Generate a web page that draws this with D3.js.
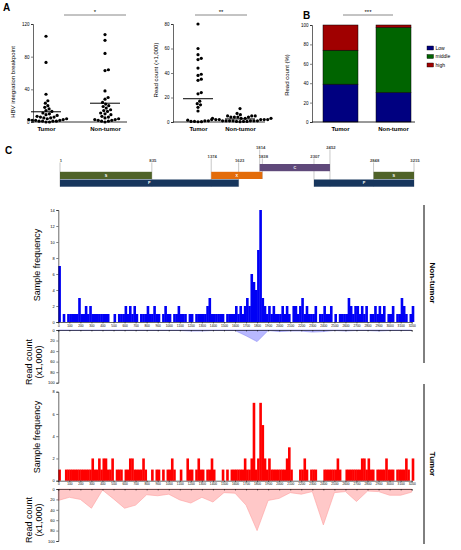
<!DOCTYPE html>
<html>
<head>
<meta charset="utf-8">
<script src="https://cdn.jsdelivr.net/npm/d3@7"></script>
<style>
  body { margin: 0; background: #fff; }
  figure { margin: 0; }
  svg { display: block; font-family: "Liberation Sans", Arial, sans-serif; }
</style>
</head>
<body>
<figure></figure>
<script>
// ---- panel A data ----
const groups = ['Tumor', 'Non-tumor'];
const breakpointTumor = [105, 73, 34, 26, 23, 20, 18, 16, 14, 13, 11, 10, 9, 8, 7, 6, 6, 5, 5, 4, 4, 3, 3, 2, 2, 2, 1, 1, 1, 1, 0, 0];
const breakpointNonTumor = [107, 100, 84, 64, 63, 38, 30, 28, 24, 22, 20, 19, 17, 15, 14, 13, 11, 10, 9, 7, 6, 5, 4, 3, 3, 2, 2, 1, 1, 0];
const breakpointMean = [12.5, 23];
const readTumor = [80, 60, 55, 52, 51, 44, 39, 38, 35, 34, 24, 23, 17, 15, 14, 12, 9, 2, 1.5, 1, 1, 0.5, 0.5, 0.3, 0.2];
const readNonTumor = [11, 7, 6, 5, 5, 5, 4, 4, 4, 4, 3, 3, 3, 3, 2, 2, 2, 2, 2, 1, 1, 1, 1, 1, 1, 1, 0.5, 0.5, 0.5, 0.3];
const readMean = [19, 2.5];

// ---- panel B data ----
const levels = ['Low', 'middle', 'high'];
const pctTumor = [39, 35, 26];
const pctNonTumor = [30.5, 67, 2.5];

// ---- panel C data ----
const geneNames = ['S', 'X', 'C', 'P', 'S', 'P'];
const geneStart = [1, 1374, 1814, 1, 2848, 2307];
const geneEnd = [835, 1838, 2452, 1623, 3215, 3215];
const coordLabels = [1, 835, 1374, 1623, 1814, 1838, 2307, 2452, 2848, 3215];

const binSize = 20;
const freqNonTumor = [
  7,0,1,0,1,1,1,1,1,3,
  1,1,2,1,2,1,1,1,1,1,
  1,1,1,0,0,1,0,1,1,1,
  2,1,2,1,2,1,0,1,1,1,
  2,1,1,2,1,1,0,1,2,1,
  1,0,1,1,2,1,1,1,0,1,
  1,0,1,1,1,1,1,2,3,1,
  1,1,1,1,1,0,1,1,1,1,
  2,1,2,1,2,3,2,6,5,4,
  9,14,3,2,1,2,1,2,1,1,
  1,2,1,2,1,0,2,2,1,2,
  3,1,2,1,1,1,2,0,1,1,
  2,1,1,2,0,1,0,1,1,1,
  1,3,2,1,2,2,1,2,1,2,
  0,1,1,2,1,2,1,2,0,1,
  1,2,0,1,1,3,2,1,0,1,
  2];
const freqTumor = [
  1,0,0,1,1,1,1,1,1,1,
  1,1,1,1,1,2,1,1,2,1,
  2,2,1,1,2,0,1,1,1,0,
  1,1,2,2,1,1,1,1,2,1,
  0,0,1,0,1,1,0,1,0,1,
  1,2,1,0,0,1,0,0,2,1,
  1,0,1,2,1,1,0,1,1,2,
  1,0,0,0,1,0,1,0,1,1,
  1,1,1,1,2,1,1,2,7,1,
  2,7,5,2,1,2,1,1,1,1,
  1,1,1,2,3,1,0,0,0,1,
  1,2,1,0,1,1,1,0,0,0,
  1,1,1,1,1,1,2,1,0,0,
  1,1,1,1,1,1,1,2,2,1,
  2,1,1,0,1,1,1,1,2,1,
  1,1,0,1,1,1,1,2,1,0,
  2];

const readPos = [0,100,200,300,400,500,600,700,800,900,1000,1100,1200,1300,1400,1500,1600,
  1700,1800,1900,2000,2100,2200,2300,2400,2500,2600,2700,2800,2900,3000,3100,3200];
const readAreaNonTumor = [1,1,1,1,1,1,1,1,1,1,1,1,2,2,1,1,1,11,22,1,3,2,2,4,3,1,2,1,1,2,1,1,1];
const readAreaTumor = [22,16,20,37,2,19,37,31,11,13,10,21,27,16,25,7,8,31,80,22,18,7,10,5,69,7,5,24,4,5,12,12,6];

(() => {
  const svg = d3.select('figure').append('svg')
    .attr('width', 461)
    .attr('height', 550);

  const styleAxis = (g, fs) => {
    g.select('.domain').attr('stroke', '#000').attr('stroke-width', 0.6);
    g.selectAll('.tick line').attr('stroke', '#000').attr('stroke-width', 0.5);
    g.selectAll('.tick text').attr('font-size', fs).attr('fill', '#000');
  };

  const vText = (x, y, str, fs, rot, weight) => svg.append('text')
    .attr('transform', 'translate(' + x + ',' + y + ') rotate(' + rot + ')')
    .attr('text-anchor', 'middle')
    .attr('font-size', fs)
    .attr('font-weight', weight || 'normal')
    .text(str);

  // simple beeswarm: place each point at the smallest offset that avoids overlaps
  const dodge = (vals, y, r, cx) => {
    const d = 2 * r + 0.3;
    const placed = [];
    vals.slice().sort((a, b) => a - b).forEach(v => {
      const py = y(v);
      const near = placed.filter(p => Math.abs(p.y - py) < d);
      const cands = [0];
      near.forEach(p => {
        const dx = Math.sqrt(d * d - (p.y - py) * (p.y - py));
        cands.push(p.dx + dx, p.dx - dx);
      });
      cands.sort((a, b) => Math.abs(a) - Math.abs(b));
      const off = cands.find(c => near.every(p => (p.dx - c) ** 2 + (p.y - py) ** 2 >= d * d - 1e-6));
      placed.push({y: py, dx: off});
    });
    return placed.map(p => ({cx: cx + p.dx, cy: p.y}));
  };

  const letter = (x, y, s) => svg.append('text').attr('x', x).attr('y', y)
    .attr('font-size', 10).attr('font-weight', 'bold').text(s);

  const sigBar = (x1, x2, stars) => {
    svg.append('line').attr('x1', x1).attr('x2', x2).attr('y1', 15).attr('y2', 15)
      .attr('stroke', '#888').attr('stroke-width', 1);
    svg.append('text').attr('x', (x1 + x2) / 2).attr('y', 13.5).attr('text-anchor', 'middle')
      .attr('font-size', 6).text(stars);
  };

  // ---------- panel A ----------
  letter(3, 11, 'A');

  const scatter = (axisX, axisEnd, catRange, yMax, yTicks, series, means, label, labelX, labelY) => {
    const y = d3.scaleLinear().domain([0, yMax]).range([122, 24]);
    const x = d3.scalePoint().domain(groups).range(catRange);
    const ya = svg.append('g').attr('transform', 'translate(' + axisX + ',0)')
      .call(d3.axisLeft(y).tickValues(yTicks).tickSize(2).tickPadding(1.5));
    styleAxis(ya, 4.5);
    svg.append('line').attr('x1', axisX).attr('x2', axisEnd).attr('y1', 122).attr('y2', 122)
      .attr('stroke', '#000').attr('stroke-width', 0.8);
    const xa = svg.append('g').attr('transform', 'translate(0,122)')
      .call(d3.axisBottom(x).tickSize(0).tickPadding(5));
    xa.select('.domain').remove();
    xa.selectAll('.tick text').attr('font-size', 6).attr('font-weight', 'bold').attr('fill', '#000');
    groups.forEach((gname, i) => {
      svg.append('g').selectAll('circle')
        .data(dodge(series[i], y, 1.6, x(gname)))
        .join('circle')
        .attr('cx', d => d.cx).attr('cy', d => d.cy).attr('r', 1.6).attr('fill', '#000');
      svg.append('line').attr('x1', x(gname) - 15).attr('x2', x(gname) + 15)
        .attr('y1', y(means[i])).attr('y2', y(means[i]))
        .attr('stroke', '#000').attr('stroke-width', 1);
    });
    vText(labelX, labelY, label, 6, -90);
  };

  scatter(33, 127, [46, 105], 120, [0, 40, 80, 120], [breakpointTumor, breakpointNonTumor],
    breakpointMean, 'HBV integration breakpoint', 15, 82);
  sigBar(64, 126, '*');

  scatter(173, 265, [198, 240], 80, [0, 20, 40, 60, 80], [readTumor, readNonTumor],
    readMean, 'Read count (\u00d71,000)', 158, 70);
  sigBar(195, 247, '**');

  // ---------- panel B ----------
  letter(303, 19, 'B');
  const yPct = d3.scaleLinear().domain([0, 100]).range([122, 25]);
  const xB = d3.scaleBand().domain(groups).range([312, 422]).paddingInner(0.34).paddingOuter(0.2075);
  const levelColor = {Low: '#000080', middle: '#006400', high: '#A00000'};
  const rows = groups.map((g, i) => {
    const vals = i === 0 ? pctTumor : pctNonTumor;
    const row = {group: g};
    levels.forEach((l, j) => { row[l] = vals[j]; });
    return row;
  });
  const stacked = d3.stack().keys(levels)(rows);
  svg.append('g').selectAll('g').data(stacked).join('g')
    .attr('fill', d => levelColor[d.key])
    .selectAll('rect').data(d => d).join('rect')
    .attr('x', d => xB(d.data.group))
    .attr('width', xB.bandwidth())
    .attr('y', d => yPct(d[1]))
    .attr('height', d => yPct(d[0]) - yPct(d[1]))
    .attr('stroke', '#000').attr('stroke-width', 0.5);
  const yb = svg.append('g').attr('transform', 'translate(312,0)')
    .call(d3.axisLeft(yPct).tickValues([0, 20, 40, 60, 80, 100]).tickSize(2).tickPadding(1.5));
  styleAxis(yb, 4.5);
  svg.append('line').attr('x1', 312).attr('x2', 415).attr('y1', 122).attr('y2', 122)
    .attr('stroke', '#000').attr('stroke-width', 0.8);
  const xb = svg.append('g').attr('transform', 'translate(0,122)')
    .call(d3.axisBottom(xB).tickSize(0).tickPadding(5));
  xb.select('.domain').remove();
  xb.selectAll('.tick text').attr('font-size', 6).attr('font-weight', 'bold').attr('fill', '#000');
  vText(289, 75, 'Read count (%)', 6, -90);
  sigBar(343, 393, '***');
  const leg = svg.append('g').selectAll('g').data(levels).join('g')
    .attr('transform', (d, i) => 'translate(427,' + (46 + i * 8.5) + ')');
  leg.append('rect').attr('width', 6.5).attr('height', 4).attr('fill', d => levelColor[d])
    .attr('stroke', '#000').attr('stroke-width', 0.4);
  leg.append('text').attr('x', 8.5).attr('y', 3.8).attr('font-size', 5).text(d => d);

  // ---------- panel C: genome map ----------
  letter(5, 154, 'C');
  const gx = d3.scaleLinear().domain([1, 3215]).range([60, 414]);
  const geneColor = {S: '#4F6228', X: '#E36C0A', C: '#5F497A', P: '#17365D'};
  const geneRow = {C: 0, S: 1, X: 1, P: 2};
  const rowTop = [164, 171.8, 179.5];
  const rowH = 7.2;
  const labelY = {1814: 148.5, 2452: 148.5, 1374: 157.5, 1838: 157.5, 2307: 157.5};
  coordLabels.forEach(pos => {
    const ly = labelY[pos] || 161.5;
    let bottom = 0;
    geneNames.forEach((n, i) => {
      if (geneStart[i] <= pos && pos <= geneEnd[i]) bottom = Math.max(bottom, rowTop[geneRow[n]] + rowH);
    });
    svg.append('line').attr('x1', gx(pos)).attr('x2', gx(pos)).attr('y1', ly + 1).attr('y2', bottom)
      .attr('stroke', '#b0b0b0').attr('stroke-width', 0.7);
    svg.append('text').attr('x', gx(pos) + 1).attr('y', ly).attr('text-anchor', 'middle')
      .attr('font-size', 4.2).attr('font-weight', 'bold').attr('fill', '#444').text(pos);
  });
  geneNames.forEach((n, i) => {
    const x0 = gx(geneStart[i]);
    const x1 = gx(geneEnd[i]);
    const top = rowTop[geneRow[n]];
    svg.append('rect').attr('x', x0).attr('y', top).attr('width', x1 - x0).attr('height', rowH)
      .attr('fill', geneColor[n]);
    svg.append('text').attr('x', (x0 + x1) / 2).attr('y', top + rowH / 2 + 1.3)
      .attr('text-anchor', 'middle').attr('font-size', 3.8).attr('font-weight', 'bold')
      .attr('fill', '#fff').text(n);
  });

  // ---------- panel C: histograms + read count ----------
  const xG = d3.scaleLinear().domain([0, 3200]).range([58.3, 411.7]);
  const hundreds = readPos;

  const track = (freq, reads, yMax, freqTop, freqBase, readTop, readBottom, barColor, areaFill, areaLine,
                 name, nameY, lineTop, lineBottom, sfY, rcY) => {
    const yF = d3.scaleLinear().domain([0, yMax]).range([freqBase, freqTop]);
    const bw = xG(binSize) - xG(0);
    svg.append('g').selectAll('rect').data(freq).join('rect')
      .attr('x', (d, i) => xG(i * binSize))
      .attr('width', bw + 0.4)
      .attr('y', d => yF(d))
      .attr('height', d => freqBase - yF(d))
      .attr('fill', barColor);
    const ya = svg.append('g').attr('transform', 'translate(58.3,0)')
      .call(d3.axisLeft(yF).tickValues(d3.range(0, yMax + 1, 2)).tickSize(2).tickPadding(1.5));
    styleAxis(ya, 4);
    const xa = svg.append('g').attr('transform', 'translate(0,' + freqBase + ')')
      .call(d3.axisBottom(xG).tickValues(hundreds).tickSize(1.5).tickPadding(1).tickFormat(d3.format('d')));
    styleAxis(xa, 3.2);

    const yR = d3.scaleLinear().domain([0, 100]).range([readTop, readBottom]);
    const area = d3.area()
      .x((d, i) => xG(readPos[i]))
      .y0(yR(0))
      .y1(d => yR(d));
    svg.append('path').datum(reads).attr('d', area)
      .attr('fill', areaFill).attr('stroke', areaLine).attr('stroke-width', 0.6);
    const ra = svg.append('g').attr('transform', 'translate(58.3,0)')
      .call(d3.axisLeft(yR).tickValues([0, 20, 40, 60, 80, 100]).tickSize(2).tickPadding(1.5));
    styleAxis(ra, 4);
    const rt = svg.append('g').attr('transform', 'translate(0,' + readTop + ')')
      .call(d3.axisBottom(xG).tickValues(hundreds).tickSize(1.5).tickFormat(''));
    styleAxis(rt, 3);

    vText(39.5, sfY, 'Sample frequency', 9, -90);
    vText(31.5, rcY, 'Read count', 9, -90);
    vText(41.5, rcY, '(x1,000)', 9, -90);

    svg.append('line').attr('x1', 424).attr('x2', 424).attr('y1', lineTop).attr('y2', lineBottom)
      .attr('stroke', '#000').attr('stroke-width', 1);
    vText(429.5, nameY, name, 8, 90, 'bold');
  };

  track(freqNonTumor, readAreaNonTumor, 14, 210, 322, 330, 382.7, '#0000F5', '#B8B8FF', '#8C8CF5',
    'Non-tumor', 283, 205, 363, 265, 362);
  track(freqTumor, readAreaTumor, 8, 391.7, 480.7, 489, 541, '#FF0000', '#FFC8C8', '#FFA0A0',
    'Tumor', 464, 384, 544, 437, 520);
})();
</script>
</body>
</html>
